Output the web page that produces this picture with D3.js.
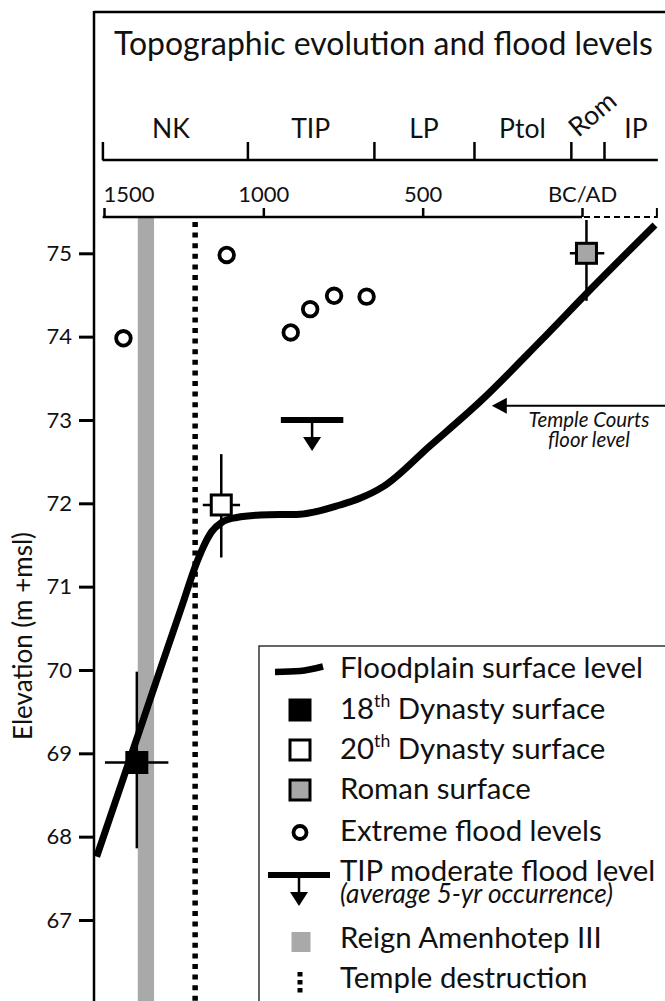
<!DOCTYPE html>
<html><head><meta charset="utf-8">
<script src="https://cdn.jsdelivr.net/npm/d3@7"></script>
<style>html,body{margin:0;padding:0;background:#fff;} svg{display:block;}</style>
</head><body><div id="chart"></div>
<script>
// ---------------- data ----------------
const periodNames = ["NK","TIP","LP","Ptol","Rom","IP"];
const periodBounds = [-1505,-1050,-653,-339,-35,69,238];
const yearTicks = [-1500,-1000,-500,0];
const yearTickLabels = ["1500","1000","500","BC/AD"];
const yearAxisEnd = 235;
const elevTicks = [67,68,69,70,71,72,73,74,75];

const floodplainYear = [-1523,-1418,-1324,-1250,-1214,-1188,-1162,-1131,-1084,-1010,-885,-759,-697,-624,-477,-320,-132,25,229];
const floodplainElev = [67.76,68.94,70.00,70.83,71.24,71.48,71.66,71.77,71.83,71.86,71.87,71.98,72.06,72.20,72.69,73.22,73.94,74.56,75.34];

const extremeYear = [-1439,-1115,-914,-853,-778,-676];
const extremeElev = [73.98,74.98,74.05,74.33,74.49,74.48];

const surfaceNames = ["18th Dynasty","20th Dynasty","Roman"];
const surfaceYear = [-1397,-1132,14];
const surfaceElev = [68.89,71.98,75.00];
const surfaceYearLow = [-1497,-1190,-38];
const surfaceYearHigh = [-1298,-1073,70];
const surfaceElevLow = [67.86,71.35,74.43];
const surfaceElevHigh = [69.98,72.59,75.40];
const surfaceFill = ["#000000","#ffffff","#a6a6a6"];

const tipYear = -847, tipElev = 73.0, tipYearSpan = [-945,-749];
const reignSpan = [-1394,-1343];
const destructionYear = -1214;
const templeCourtsElev = 73.17, templeCourtsYear = -283;

const legendLabels = ["Floodplain surface level","18|th| Dynasty surface","20|th| Dynasty surface","Roman surface","Extreme flood levels","TIP moderate flood level","Reign Amenhotep III","Temple destruction"];
const legendNote = "(average 5-yr occurrence)";
const titleText = "Topographic evolution and flood levels";
const yLabel = "Elevation (m +msl)";

// ---------------- chart ----------------
const W = 665, H = 1001;
const FONT = "Lato, 'Open Sans', sans-serif";
const svg = d3.select("#chart").append("svg").attr("width", W).attr("height", H)
  .style("font-family", FONT);

const x = d3.scaleLinear().domain([-1500, 0]).range([104, 582]);
const y = d3.scaleLinear().domain([75, 67]).range([253.3, 920]);

function fit(sel, target) {
  const fs = parseFloat(sel.attr("font-size"));
  const w = sel.node().getComputedTextLength();
  const nf = fs * target / w;
  sel.attr("font-size", nf.toFixed(2));
  return nf;
}

// reign band
svg.append("rect")
  .attr("x", x(reignSpan[0])).attr("width", x(reignSpan[1]) - x(reignSpan[0]))
  .attr("y", 218).attr("height", H - 218).attr("fill", "#a9a9a9");

// temple destruction
svg.append("line")
  .attr("x1", x(destructionYear)).attr("x2", x(destructionYear))
  .attr("y1", 222).attr("y2", H)
  .attr("stroke", "#000").attr("stroke-width", 5.5).attr("stroke-dasharray", "5,5.6");

// frame
svg.append("line").attr("x1", 94).attr("x2", 670).attr("y1", 12).attr("y2", 12)
  .attr("stroke", "#000").attr("stroke-width", 2.5);
svg.append("line").attr("x1", 94).attr("x2", 94).attr("y1", 11).attr("y2", H + 5)
  .attr("stroke", "#000").attr("stroke-width", 2.5);

// title
const title = svg.append("text").attr("x", 114).attr("y", 55)
  .attr("font-size", 30).attr("fill", "#111").text(titleText);
fit(title, 539);

// period axis
const pAxisY = 160;
svg.append("line").attr("x1", x(periodBounds[0])).attr("x2", x(periodBounds[periodBounds.length - 1]) )
  .attr("y1", pAxisY).attr("y2", pAxisY).attr("stroke", "#000").attr("stroke-width", 2.5);
const pAxis = svg.append("g").attr("transform", `translate(0,${pAxisY})`)
  .call(d3.axisTop(x).tickValues(periodBounds.slice(0, periodBounds.length - 1)).tickSize(18).tickFormat(""));
pAxis.select(".domain").remove();
pAxis.selectAll(".tick line").attr("stroke", "#000").attr("stroke-width", 2.5);

const probe = svg.append("text").attr("font-size", 28).text("Ptol");
const pfs = fit(probe, 46.7);
probe.remove();
periodNames.forEach((name, i) => {
  const mid = (x(periodBounds[i]) + x(periodBounds[i + 1])) / 2;
  if (name === "Rom") {
    svg.append("text").attr("transform", `translate(${mid + 11},121) rotate(-40)`)
      .attr("text-anchor", "middle").attr("font-size", pfs).attr("fill", "#111").text(name);
  } else {
    const dx = name === "NK" ? -4 : (name === "IP" ? 5 : 0);
    svg.append("text").attr("x", mid + dx).attr("y", 138).attr("text-anchor", "middle")
      .attr("font-size", pfs).attr("fill", "#111").text(name);
  }
});

// year axis
const yAxisY = 217;
const yearAxis = svg.append("g").attr("transform", `translate(0,${yAxisY})`)
  .call(d3.axisTop(x).tickValues(yearTicks).tickSize(9).tickPadding(6)
    .tickFormat((d, i) => yearTickLabels[i]));
yearAxis.select(".domain").remove();
svg.append("line").attr("x1", x(yearTicks[0]) - 1.3).attr("x2", x(0)).attr("y1", yAxisY).attr("y2", yAxisY)
  .attr("stroke", "#000").attr("stroke-width", 2.5);
yearAxis.selectAll(".tick line").attr("stroke", "#000").attr("stroke-width", 2.5);
yearAxis.selectAll(".tick text").attr("font-family", FONT).attr("font-size", 22).attr("fill", "#111");
yearAxis.selectAll(".tick text").filter((d, i) => i === 0).attr("text-anchor", "start").attr("dx", -1);
svg.append("line").attr("x1", x(0) + 2).attr("x2", x(yearAxisEnd)).attr("y1", yAxisY).attr("y2", yAxisY)
  .attr("stroke", "#000").attr("stroke-width", 2).attr("stroke-dasharray", "6,4");
svg.append("line").attr("x1", x(yearAxisEnd)).attr("x2", x(yearAxisEnd)).attr("y1", yAxisY + 1).attr("y2", yAxisY - 9)
  .attr("stroke", "#000").attr("stroke-width", 2);

// elevation axis
const eAxis = svg.append("g").attr("transform", "translate(94,0)")
  .call(d3.axisLeft(y).tickValues(elevTicks).tickSize(15).tickPadding(7).tickFormat(d3.format("d")));
eAxis.select(".domain").remove();
eAxis.selectAll(".tick line").attr("stroke", "#000").attr("stroke-width", 3);
eAxis.selectAll(".tick text").attr("font-family", FONT).attr("font-size", 22).attr("fill", "#111");

const yl = svg.append("text").attr("transform", "translate(32,636) rotate(-90)")
  .attr("text-anchor", "middle").attr("font-size", 22).attr("fill", "#111").text(yLabel);
fit(yl, 208);

// floodplain curve
const fp = floodplainYear.map((d, i) => [d, floodplainElev[i]]);
svg.append("path").datum(fp)
  .attr("d", d3.line().x(d => x(d[0])).y(d => y(d[1])).curve(d3.curveMonotoneX))
  .attr("fill", "none").attr("stroke", "#000").attr("stroke-width", 7);

// extreme floods
svg.selectAll("circle.ext").data(extremeYear).join("circle").attr("class", "ext")
  .attr("cx", d => x(d)).attr("cy", (d, i) => y(extremeElev[i])).attr("r", 7.3)
  .attr("fill", "#fff").attr("stroke", "#000").attr("stroke-width", 3.8);

// TIP moderate flood level
function tipSymbol(g, cx, cy, half) {
  g.append("line").attr("x1", cx - half).attr("x2", cx + half).attr("y1", cy).attr("y2", cy)
    .attr("stroke", "#000").attr("stroke-width", 6);
  g.append("line").attr("x1", cx).attr("x2", cx).attr("y1", cy).attr("y2", cy + 20)
    .attr("stroke", "#000").attr("stroke-width", 2.5);
  g.append("path").attr("d", `M${cx - 9},${cy + 17}L${cx + 9},${cy + 17}L${cx},${cy + 31}Z`).attr("fill", "#000");
}
const tipHalf = (x(tipYearSpan[1]) - x(tipYearSpan[0])) / 2;
tipSymbol(svg.append("g"), x(tipYear), y(tipElev), tipHalf);

// surfaces with error bars
surfaceYear.forEach((yr, i) => {
  const cx = x(yr), cy = y(surfaceElev[i]);
  svg.append("line").attr("x1", x(surfaceYearLow[i])).attr("x2", x(surfaceYearHigh[i]))
    .attr("y1", cy).attr("y2", cy).attr("stroke", "#000").attr("stroke-width", 2.5);
  svg.append("line").attr("x1", cx).attr("x2", cx)
    .attr("y1", y(surfaceElevHigh[i])).attr("y2", y(surfaceElevLow[i]))
    .attr("stroke", "#000").attr("stroke-width", 2.5);
  svg.append("rect").attr("x", cx - 10).attr("y", cy - 10).attr("width", 20).attr("height", 20)
    .attr("fill", surfaceFill[i]).attr("stroke", "#000").attr("stroke-width", 3);
});

// Temple courts floor level annotation
const tcy = y(templeCourtsElev), tcx = x(templeCourtsYear);
svg.append("line").attr("x1", tcx + 12).attr("x2", W + 5).attr("y1", tcy).attr("y2", tcy)
  .attr("stroke", "#000").attr("stroke-width", 2);
svg.append("path").attr("d", `M${tcx},${tcy}L${tcx + 15},${tcy - 8}L${tcx + 15},${tcy + 8}Z`).attr("fill", "#000");
const tc1 = svg.append("text").attr("x", 589).attr("y", 427).attr("text-anchor", "middle")
  .attr("font-style", "italic").attr("font-size", 17).attr("fill", "#111").text("Temple Courts");
const tcs = fit(tc1, 121);
svg.append("text").attr("x", 589).attr("y", 447).attr("text-anchor", "middle")
  .attr("font-style", "italic").attr("font-size", tcs).attr("fill", "#111").text("floor level");

// ---------------- legend ----------------
svg.append("rect").attr("x", 259).attr("y", 646).attr("width", 450).attr("height", 400)
  .attr("fill", "#fff").attr("stroke", "#333").attr("stroke-width", 1.5);
const rowY = [678, 719, 759, 799, 841, 881, 948, 988];
const lp = svg.append("text").attr("font-size", 26).text(legendLabels[0]);
const lfs = fit(lp, 303);
lp.remove();
legendLabels.forEach((lab, i) => {
  const t = svg.append("text").attr("x", 340).attr("y", rowY[i]).attr("font-size", lfs).attr("fill", "#111");
  const parts = lab.split("|");
  if (parts.length === 3) {
    t.append("tspan").text(parts[0]);
    t.append("tspan").attr("font-size", lfs * 0.6).attr("dy", -lfs * 0.4).text(parts[1]);
    t.append("tspan").attr("dy", lfs * 0.4).text(parts[2]);
  } else t.text(lab);
});
const note = svg.append("text").attr("x", 340).attr("y", 903).attr("font-style", "italic")
  .attr("font-size", 21).attr("fill", "#111").text(legendNote);
fit(note, 273);

const sx = 300;
svg.append("path").datum([[275, 672], [300, 671], [323, 666.5]])
  .attr("d", d3.line().curve(d3.curveMonotoneX))
  .attr("fill", "none").attr("stroke", "#000").attr("stroke-width", 6.5);
[1, 2, 3].forEach((r, k) => {
  svg.append("rect").attr("x", sx - 10).attr("y", rowY[r] - 19).attr("width", 20).attr("height", 20)
    .attr("fill", surfaceFill[k]).attr("stroke", "#000").attr("stroke-width", 3);
});
svg.append("circle").attr("cx", sx).attr("cy", rowY[4] - 8.5).attr("r", 6.5)
  .attr("fill", "#fff").attr("stroke", "#000").attr("stroke-width", 3.8);
tipSymbol(svg.append("g"), 299, 875, 31);
svg.append("rect").attr("x", 291.5).attr("y", 932).attr("width", 19).attr("height", 20).attr("fill", "#a9a9a9");
svg.append("line").attr("x1", sx).attr("x2", sx).attr("y1", 972).attr("y2", 993)
  .attr("stroke", "#000").attr("stroke-width", 5).attr("stroke-dasharray", "4.5,3.5");
</script>
</body></html>
